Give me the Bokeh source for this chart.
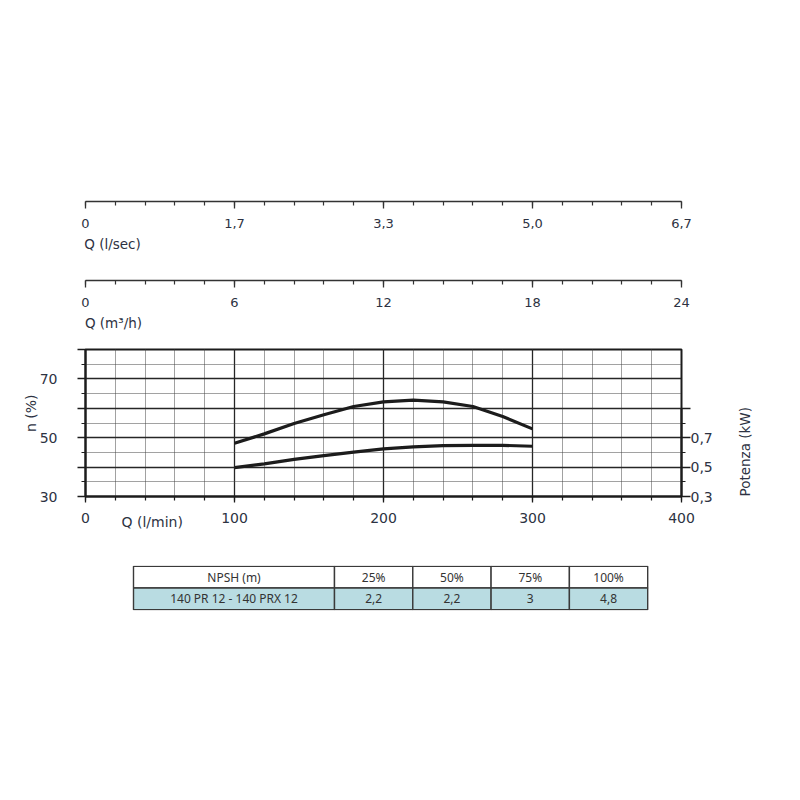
import math
import numpy as np
from bokeh.plotting import figure
from bokeh.models import Range1d, LinearAxis, FixedTicker
from bokeh.layouts import column
from bokeh.core.properties import value
from bokeh.embed import file_html
from bokeh.resources import INLINE

# ---------------- data ----------------
q_lmin = [100, 120, 140, 160, 180, 200, 220, 240, 260, 280, 300]
efficiency = [48.1, 51.3, 54.8, 57.8, 60.6, 62.2, 62.8, 62.2, 60.6, 57.2, 53.0]
power_kw = [0.496, 0.522, 0.552, 0.578, 0.602, 0.624, 0.638, 0.646, 0.648, 0.648, 0.642]

lmin_ticks = [0, 100, 200, 300, 400]
lsec_ticks = [0, 100 / 60, 200 / 60, 300 / 60, 400 / 60]
lsec_labels = ["0", "1,7", "3,3", "5,0", "6,7"]
m3h_ticks = [0, 6, 12, 18, 24]
eff_ticks = [30, 40, 50, 60, 70, 80]
eff_labels = ["30", "", "50", "", "70", ""]
kw_ticks = [0.3, 0.5, 0.7, 0.9]
kw_labels = ["0,3", "0,5", "0,7", ""]

npsh_header = ["NPSH (m)", "25%", "50%", "75%", "100%"]
npsh_row = ["140 PR 12 - 140 PRX 12", "2,2", "2,2", "3", "4,8"]

# ---------------- style ----------------
FONT = "DejaVu Sans"
TXT = "#2d3242"
INK = "#1c1c1c"
FL = 85          # frame left (px)
FW = 596         # frame width (px)
FR = 109         # right border (px)


def style_ticks(ax, major_out, minor_out, color=INK, lw=2):
    ax.axis_line_color = color
    ax.axis_line_width = lw
    ax.major_tick_line_color = color
    ax.minor_tick_line_color = color
    ax.major_tick_line_width = 1.3
    ax.minor_tick_line_width = 1.2
    ax.major_tick_in = 0
    ax.minor_tick_in = 0
    ax.major_tick_out = major_out
    ax.minor_tick_out = minor_out


def title_axis(text, pos, standoff, size="13.5px", orientation=None, **kw):
    """An axis without line or ticks whose single label is the title."""
    ax = LinearAxis(ticker=FixedTicker(ticks=[pos], minor_ticks=[]),
                    major_label_overrides={pos: text},
                    axis_line_color=None, major_tick_line_color=None,
                    minor_tick_line_color=None, major_tick_out=0, major_tick_in=0,
                    minor_tick_out=0, minor_tick_in=0,
                    major_label_text_font=FONT, major_label_text_font_size=size,
                    major_label_text_color=TXT, **kw)
    try:
        ax.major_label_standoff = standoff
    except Exception:
        ax.major_label_standoff = 0
    if orientation is not None:
        ax.major_label_orientation = orientation
    return ax


def top_axis_fig(x_end, ticks, minor, labels, title, title_center_px, mb_top, mb_bottom):
    f = figure(frame_width=FW, frame_height=2, min_border_left=FL, min_border_right=FR,
               min_border_top=mb_top, min_border_bottom=mb_bottom,
               x_range=Range1d(0, x_end), y_range=Range1d(0, 1),
               y_axis_location=None, toolbar_location=None, output_backend="svg",
               outline_line_color=None)
    f.grid.visible = False
    ax = f.xaxis[0]
    ax.ticker = FixedTicker(ticks=ticks, minor_ticks=minor)
    if labels is not None:
        ax.major_label_overrides = {t: l for t, l in zip(ticks, labels)}
    style_ticks(ax, 7, 4, color="#333333", lw=1.5)
    ax.major_label_standoff = 10
    ax.major_label_text_font = FONT
    ax.major_label_text_font_size = "13px"
    ax.major_label_text_color = TXT
    f.add_layout(title_axis(title, title_center_px * x_end / FW, 5), "below")
    return f


lsec_minor = [t * 20 / 60 for t in range(0, 21)]
figA = top_axis_fig(400 / 60, lsec_ticks, lsec_minor, lsec_labels, "Q (l/sec)", 27, 199, 58)
m3h_minor = [t * 1.2 for t in range(0, 21)]
figB = top_axis_fig(24, m3h_ticks, m3h_minor, None, "Q (m\u00b3/h)", 28, 19, 51)

# ---------------- main chart ----------------
p = figure(frame_width=FW, frame_height=147, min_border_left=FL, min_border_right=FR,
           min_border_top=16, min_border_bottom=51,
           x_range=Range1d(0, 400), y_range=Range1d(30, 80),
           toolbar_location=None, output_backend="svg")
p.outline_line_color = INK
p.outline_line_width = 2
p.extra_y_ranges = {"kw": Range1d(0.3, 1.3)}

x_ticker = FixedTicker(ticks=lmin_ticks, minor_ticks=list(range(0, 401, 20)))
y_ticker = FixedTicker(ticks=eff_ticks, minor_ticks=[35, 45, 55, 65, 75])

xa = p.xaxis[0]
xa.ticker = x_ticker
style_ticks(xa, 6, 4)
xa.major_label_standoff = 10
xa.major_label_text_font = FONT
xa.major_label_text_font_size = "14px"
xa.major_label_text_color = TXT
# "Q (l/min)" title sitting to the right of the "0" label
p.add_layout(title_axis("Q (l/min)", 44.8, -12, size="14px"), "below")

ya = p.yaxis[0]
ya.ticker = y_ticker
ya.major_label_overrides = {t: l for t, l in zip(eff_ticks, eff_labels)}
style_ticks(ya, 8, 4)
ya.major_label_standoff = 20
ya.major_label_text_font = FONT
ya.major_label_text_font_size = "14px"
ya.major_label_text_color = TXT
p.add_layout(title_axis("n (%)", 58.3, -3, size="14px", orientation="vertical"), "left")

ra = LinearAxis(y_range_name="kw",
                ticker=FixedTicker(ticks=kw_ticks, minor_ticks=[0.4, 0.6, 0.8]),
                bounds=(0.3, 0.9))
ra.major_label_overrides = {t: l for t, l in zip(kw_ticks, kw_labels)}
style_ticks(ra, 9, 4)
ra.major_label_standoff = 0
ra.major_label_text_font = FONT
ra.major_label_text_font_size = "14px"
ra.major_label_text_color = TXT
p.add_layout(ra, "right")
# rotated title starts at the bottom of the frame and reads upwards
p.extra_y_ranges["kwt"] = Range1d(0, 1)
p.add_layout(title_axis("Potenza (kW)", 0.0, 29, size="13.5px", orientation=math.pi / 2,
                        y_range_name="kwt"), "right")

for g, tk in ((p.xgrid[0], x_ticker), (p.ygrid[0], y_ticker)):
    g.ticker = tk
    g.grid_line_color = "#262626"
    g.grid_line_width = 1.3
    g.minor_grid_line_color = "#444444"
    g.minor_grid_line_width = 1.1
    g.minor_grid_line_dash = "1 1"

p.line(q_lmin, efficiency, line_width=3.2, line_color=INK)
p.line(q_lmin, power_kw, y_range_name="kw", line_width=3.2, line_color=INK)

# ---------------- NPSH table ----------------
TBL_LEFT = 133 - FL                         # table left edge inside the frame (px)
col_w = np.array([201, 78.3, 78.3, 78.3, 78.3])  # column widths (px)
edges = TBL_LEFT + np.concatenate([[0], np.cumsum(col_w)])
centers = (edges[:-1] + edges[1:]) / 2
pad_y = 0.04
t = figure(frame_width=FW, frame_height=45, min_border_left=FL, min_border_right=FR,
           min_border_top=18, min_border_bottom=10,
           x_range=Range1d(0, FW), y_range=Range1d(-pad_y, 2 + pad_y),
           x_axis_location=None, y_axis_location=None, toolbar_location=None,
           output_backend="svg", outline_line_color=None)
t.grid.visible = False
t.quad(left=edges[:-1], right=edges[1:], bottom=1, top=2, fill_color="white",
       line_color="#3a3a3a", line_width=1.4)
t.quad(left=edges[:-1], right=edges[1:], bottom=0, top=1, fill_color="#b9dce2",
       line_color="#3a3a3a", line_width=1.4)
t.text(x=centers, y=[1.5] * len(centers), text=npsh_header, text_align="center",
       text_baseline="middle", text_font=value("Noto Sans"), text_font_size="12px",
       text_color="#333333")
t.text(x=centers, y=[0.5] * len(centers), text=npsh_row, text_align="center",
       text_baseline="middle", text_font=value("Noto Sans"), text_font_size="12px",
       text_color="#333333")

layout = column(figA, figB, p, t)
open("out.html", "w").write(file_html(layout, INLINE))
